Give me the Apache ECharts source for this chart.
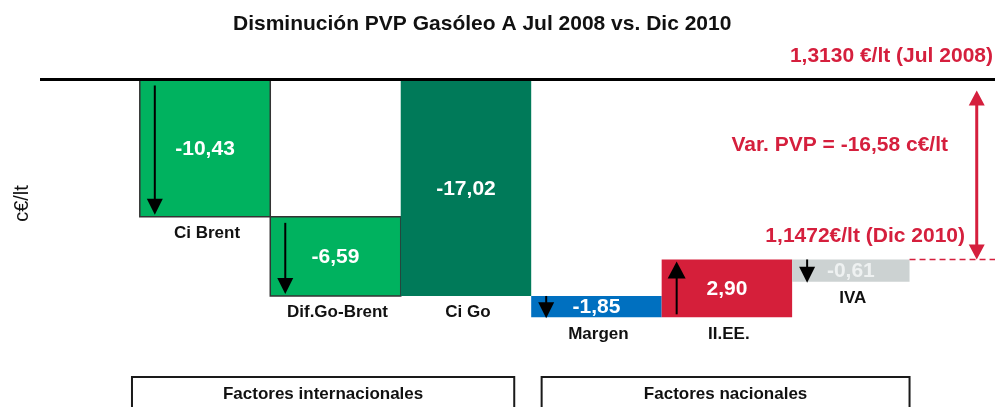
<!DOCTYPE html>
<html>
<head>
<meta charset="utf-8">
<script src="https://cdn.jsdelivr.net/npm/echarts@6/dist/echarts.min.js"></script>
<style>
html, body { margin: 0; padding: 0; background: #fff; }
#chart { width: 995px; height: 407px; }
</style>
</head>
<body>
<div id="chart"></div>
<script>
// datos del gráfico (c€/lt)
var categories = ['Ci Brent', 'Dif.Go-Brent', 'Ci Go', 'Margen', 'II.EE.', 'IVA'];
var valueLabels = ['-10,43', '-6,59', '-17,02', '-1,85', '2,90', '-0,61'];
// extremos de cada barra tal como se dibujan (el original no está a escala)
var barFrom = [0, -10.8, 0, -17.02, -18.7, -14.15];
var barTo = [-10.8, -17.02, -17.02, -18.7, -14.15, -15.9];
var arrowDir = ['down', 'down', '', 'down', 'up', 'down'];

var groupNames = ['Factores internacionales', 'Factores nacionales'];
var groupFrom = [-0.56, 2.58];
var groupTo = [2.37, 5.4];

var startValue = 0;
var endValue = -14.15;
var startText = '1,3130 €/lt (Jul 2008)';
var endText = '1,1472€/lt (Dic 2010)';
var varText = 'Var. PVP = -16,58 c€/lt';

// estilos
var FONT = '"Liberation Sans", Arial, sans-serif';
var RED = '#D51F3D';
var barColors = ['#00B25F', '#00B25F', '#007A59', '#0070C0', '#D51F3A', '#CCD2D2'];
var barBorder = [true, true, false, false, false, false];
var barHalfLeft = [0.5, 0.5, 0.5, 0.5, 0.5, 0.5];
var barHalfRight = [0.5, 0.5, 0.5, 0.5, 0.5, 0.4];
var labelColors = ['#fff', '#fff', '#fff', '#fff', '#fff', '#EEF1F1'];
var xMin = -1.265, xMax = 6.055;

var myChart = echarts.init(document.getElementById('chart'));

function arrowShapes(x, y0, y1, color, lw, hw, hh) {
    // flecha de y0 a y1 (punta en y1)
    var dir = y1 > y0 ? 1 : -1;
    return [
        { type: 'line', shape: { x1: x, y1: y0, x2: x, y2: y1 - dir * hh * 0.6 },
          style: { stroke: color, lineWidth: lw } },
        { type: 'polygon', shape: { points: [[x - hw / 2, y1 - dir * hh], [x + hw / 2, y1 - dir * hh], [x, y1]] },
          style: { fill: color } }
    ];
}

function renderBar(params, api) {
    var i = api.value(0);
    var a = api.coord([i - barHalfLeft[i], api.value(1)]);
    var b = api.coord([i + barHalfRight[i], api.value(2)]);
    var x = a[0], w = b[0] - a[0];
    var top = Math.min(a[1], b[1]), bottom = Math.max(a[1], b[1]);
    var h = bottom - top;
    var kids = [{
        type: 'rect',
        shape: { x: x, y: top, width: w, height: h },
        style: {
            fill: barColors[i],
            stroke: barBorder[i] ? '#333' : null,
            lineWidth: barBorder[i] ? 1.5 : 0
        }
    }];
    if (arrowDir[i]) {
        var ax = x + 15;
        var big = h > 40;
        var s0 = big ? 6 : 0, s1 = big ? 2 : -1;
        if (arrowDir[i] == 'down') {
            kids = kids.concat(arrowShapes(ax, top + s0, bottom - s1, '#000', 2, 16, 16));
        } else {
            kids = kids.concat(arrowShapes(ax, bottom - 3, top + 2, '#000', 2, 18, 17));
        }
    }
    kids.push({
        type: 'text',
        style: {
            text: valueLabels[i], x: x + w / 2, y: top + h / 2 + 1,
            align: 'center', verticalAlign: 'middle',
            fill: labelColors[i], font: 'bold 21px ' + FONT
        }
    });
    kids.push({
        type: 'text',
        style: {
            text: categories[i], x: x + w / 2 + 2, y: bottom + 8,
            align: 'center', verticalAlign: 'top',
            fill: '#111', font: 'bold 17px ' + FONT
        }
    });
    return { type: 'group', children: kids };
}

function renderGroup(params, api) {
    var a = api.coord([api.value(0), -23.4]);
    var b = api.coord([api.value(1), -23.4]);
    return {
        type: 'group',
        children: [
            { type: 'rect', shape: { x: a[0], y: a[1], width: b[0] - a[0], height: 60 },
              style: { fill: null, stroke: '#1a1a1a', lineWidth: 2 } },
            { type: 'text', style: {
                text: groupNames[params.dataIndex], x: (a[0] + b[0]) / 2, y: a[1] + 17,
                align: 'center', verticalAlign: 'middle', fill: '#111', font: 'bold 17px ' + FONT } }
        ]
    };
}

function renderNotes(params, api) {
    var pTop = api.coord([5.915, startValue]);
    var pEnd = api.coord([5.915, endValue]);
    var dashStart = api.coord([groupTo[1], endValue]);
    var dashEnd = api.coord([xMax, endValue]);
    var ax = pTop[0];
    var y0 = pTop[1] + 11, y1 = pEnd[1];
    var kids = [
        { type: 'line', shape: { x1: dashStart[0], y1: y1, x2: dashEnd[0], y2: y1 },
          style: { stroke: RED, lineWidth: 1.5, lineDash: [6, 4] } },
        { type: 'line', shape: { x1: ax, y1: y0 + 10, x2: ax, y2: y1 - 10 },
          style: { stroke: RED, lineWidth: 3 } },
        { type: 'polygon', shape: { points: [[ax - 8, y0 + 15], [ax + 8, y0 + 15], [ax, y0]] }, style: { fill: RED } },
        { type: 'polygon', shape: { points: [[ax - 8, y1 - 15], [ax + 8, y1 - 15], [ax, y1]] }, style: { fill: RED } },
        { type: 'text', style: { text: startText, x: dashEnd[0] - 2, y: pTop[1] - 23,
            align: 'right', verticalAlign: 'middle', fill: RED, font: 'bold 21px ' + FONT } },
        { type: 'text', style: { text: varText, x: api.coord([5.695, 0])[0], y: pTop[1] + 66,
            align: 'right', verticalAlign: 'middle', fill: RED, font: 'bold 21px ' + FONT } },
        { type: 'text', style: { text: endText, x: api.coord([5.825, 0])[0], y: y1 - 23,
            align: 'right', verticalAlign: 'middle', fill: RED, font: 'bold 21px ' + FONT } }
    ];
    return { type: 'group', children: kids };
}

var barData = categories.map(function (c, i) { return [i, barFrom[i], barTo[i]]; });
var groupData = groupNames.map(function (g, i) { return [groupFrom[i], groupTo[i]]; });

option = {
    animation: false,
    title: {
        text: 'Disminución PVP Gasóleo A Jul 2008 vs. Dic 2010',
        left: 233,
        top: 14,
        padding: 0,
        textStyle: { fontFamily: FONT, fontSize: 21, fontWeight: 'bold', color: '#111' }
    },
    grid: { left: 40, right: 0, top: 0, bottom: 0 },
    xAxis: { type: 'value', min: xMin, max: xMax, show: false },
    yAxis: {
        type: 'value', min: -25.75, max: 6.25,
        axisLine: { show: false }, axisTick: { show: false },
        axisLabel: { show: false }, splitLine: { show: false },
        name: 'c€/lt', nameLocation: 'middle', nameGap: 8, nameRotate: 90,
        nameTextStyle: { fontFamily: FONT, fontSize: 20, color: '#111' }
    },
    series: [
        {
            type: 'custom', name: 'grupos', silent: true,
            renderItem: renderGroup, data: groupData, clip: false
        },
        {
            type: 'custom', name: 'barras',
            renderItem: renderBar, data: barData, clip: false,
            encode: { x: 0, y: [1, 2] }
        },
        {
            type: 'line', name: 'cero', silent: true, symbol: 'none',
            data: [[xMin, startValue], [xMax, startValue]],
            lineStyle: { color: '#000', width: 3 }, z: 5
        },
        {
            type: 'custom', name: 'notas', silent: true,
            renderItem: renderNotes, data: [[0]], clip: false
        }
    ]
};

myChart.setOption(option);
</script>
</body>
</html>
